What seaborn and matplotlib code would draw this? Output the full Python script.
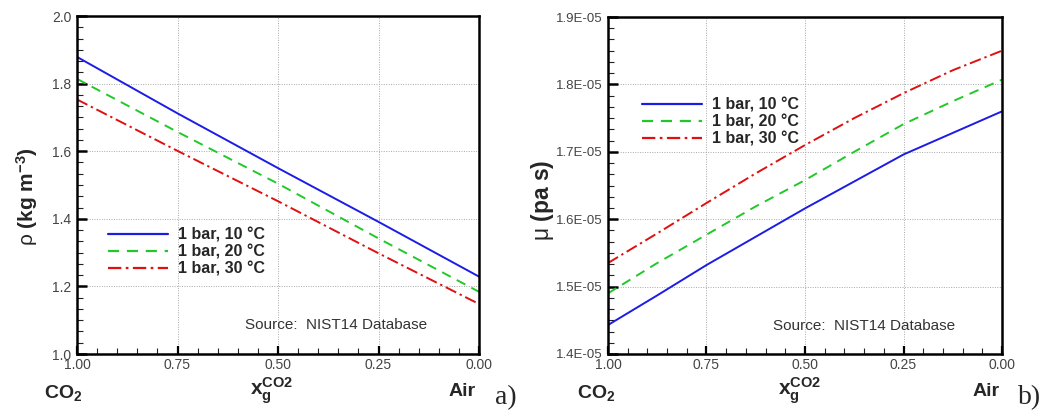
import numpy as np
import pandas as pd
import matplotlib
matplotlib.use("Agg")
import matplotlib.pyplot as plt
import seaborn as sns
from matplotlib.ticker import MultipleLocator, FormatStrFormatter, FuncFormatter
from matplotlib.lines import Line2D

# ---- data ----
series_labels = ["1 bar, 10 °C", "1 bar, 20 °C", "1 bar, 30 °C"]

x_rho = [1.00, 0.75, 0.50, 0.25, 0.00]
rho_10 = [1.879, 1.712, 1.550, 1.391, 1.229]
rho_20 = [1.814, 1.657, 1.504, 1.342, 1.184]
rho_30 = [1.753, 1.601, 1.452, 1.298, 1.148]

x_mu = [1.000, 0.875, 0.750, 0.625, 0.500, 0.375, 0.250, 0.125, 0.000]
mu_10 = [1.443, 1.487, 1.532, 1.574, 1.616, 1.656, 1.696, 1.728, 1.760]
mu_20 = [1.490, 1.535, 1.577, 1.619, 1.658, 1.700, 1.741, 1.775, 1.807]
mu_30 = [1.535, 1.579, 1.624, 1.668, 1.710, 1.750, 1.787, 1.821, 1.850]
mu_scale = 1e-5

x_ticks = [1.00, 0.75, 0.50, 0.25, 0.00]
rho_ticks = [1.0, 1.2, 1.4, 1.6, 1.8, 2.0]
mu_ticks = [1.4e-5, 1.5e-5, 1.6e-5, 1.7e-5, 1.8e-5, 1.9e-5]

colors = ["#1c1ce6", "#22c82a", "#e01010"]
dash_styles = ["", (5, 3.5), (6, 2, 1.2, 2)]

sns.set_theme(style="white")
plt.rcParams["font.family"] = ["Liberation Sans", "DejaVu Sans"]
plt.rcParams["mathtext.fontset"] = "custom"
plt.rcParams["mathtext.rm"] = "Liberation Sans"
plt.rcParams["mathtext.it"] = "Liberation Sans:italic"
plt.rcParams["mathtext.bf"] = "Liberation Sans:bold"

fig = plt.figure(figsize=(10.52, 4.13), dpi=100)
axL = fig.add_axes([77 / 1052, 1 - 354 / 413, (479 - 77) / 1052, (354 - 16) / 413])
axR = fig.add_axes([608 / 1052, 1 - 354 / 413, (1002 - 608) / 1052, (354 - 17) / 413])


def long_df(x, ys, scale=1.0):
    rows = []
    for lab, y in zip(series_labels, ys):
        for xi, yi in zip(x, y):
            rows.append({"x": xi, "y": yi * scale, "series": lab})
    return pd.DataFrame(rows)


dfL = long_df(x_rho, [rho_10, rho_20, rho_30])
dfR = long_df(x_mu, [mu_10, mu_20, mu_30], mu_scale)

pal = dict(zip(series_labels, colors))
dsh = dict(zip(series_labels, dash_styles))

for ax, df in [(axL, dfL), (axR, dfR)]:
    sns.lineplot(data=df, x="x", y="y", hue="series", style="series",
                 palette=pal, dashes=dsh, ax=ax, linewidth=1.4,
                 legend=False, sort=False, estimator=None)
    ax.set_xlim(1.0, 0.0)
    ax.set_xticks(x_ticks)
    ax.xaxis.set_major_formatter(FormatStrFormatter("%.2f"))
    ax.xaxis.set_minor_locator(MultipleLocator(0.05))
    ax.set_xlabel("")
    ax.set_ylabel("")
    ax.grid(True, which="major", color="#a8a8a8", linestyle=(0, (1, 1.5)), linewidth=0.7)
    for s in ax.spines.values():
        s.set_color("black")
        s.set_linewidth(1.8)
    ax.tick_params(axis="both", which="major", direction="in", labelsize=10,
                   labelcolor="#444444", color="black", top=False, right=False,
                   left=True, bottom=True)
    ax.tick_params(axis="y", which="major", length=7, width=1.8, pad=4)
    ax.tick_params(axis="x", which="major", length=6, width=1.6, pad=3)
    ax.tick_params(axis="both", which="minor", direction="in", length=4,
                   width=0.8, color="#222222", top=False, right=False,
                   left=True, bottom=True)
    ax.set_facecolor("white")

axL.set_ylim(1.0, 2.0)
axL.set_yticks(rho_ticks)
axL.yaxis.set_major_formatter(FormatStrFormatter("%.1f"))
axL.yaxis.set_minor_locator(MultipleLocator(0.2 / 6))

axR.set_ylim(1.4e-5, 1.9e-5)
axR.set_yticks(mu_ticks)
axR.yaxis.set_major_formatter(FuncFormatter(lambda v, p: f"{v / 1e-5:.1f}E-05"))
axR.yaxis.set_minor_locator(MultipleLocator(0.1e-5 / 6))
axR.tick_params(axis="y", which="major", labelsize=9.5)

# legends
handles = [Line2D([], [], color=c, linestyle=("-" if d == "" else (0, d)), linewidth=1.6)
           for c, d in zip(colors, dash_styles)]
for ax, anchor in [(axL, (0.077, 0.374)), (axR, (0.086, 0.760))]:
    ax.legend(handles, series_labels, loc="upper left", bbox_to_anchor=anchor,
              frameon=False, handlelength=3.75, handletextpad=0.63, labelspacing=0.12,
              prop={"weight": "bold", "size": 11.5}, borderaxespad=0, borderpad=0)

# source notes
axL.text(0.418, 0.085, "Source:  NIST14 Database", transform=axL.transAxes,
         fontsize=11, color="#333333", va="center", ha="left")
axR.text(0.42, 0.083, "Source:  NIST14 Database", transform=axR.transAxes,
         fontsize=11, color="#333333", va="center", ha="left")

# y labels
fig.text(27 / 1052, 1 - 197 / 413, r"$\mathrm{\rho}$ (kg m$^{\mathbf{-3}}$)", rotation=90,
         fontsize=15, fontweight="bold", ha="center", va="center")
fig.text(542 / 1052, 1 - 200 / 413, r"$\mathrm{\mu}$ (pa s)", rotation=90,
         fontsize=16.5, fontweight="bold", ha="center", va="center")

# bottom labels
for cx, xc, ax_, lab, lx in [(63, 272, 462, "a)", 506), (596, 800, 986, "b)", 1030)]:
    fig.text(cx / 1052, 1 - 393 / 413, r"CO$_\mathbf{2}$", fontsize=14, fontweight="bold",
             ha="center", va="center")
    fig.text(xc / 1052, 1 - 391 / 413, r"$\mathbf{x}_\mathbf{g}^\mathbf{CO2}$", fontsize=15,
             ha="center", va="center")
    fig.text(ax_ / 1052, 1 - 391 / 413, "Air", fontsize=14, fontweight="bold",
             ha="center", va="center")
    fig.text(lx / 1052, 1 - 398 / 413, lab, fontsize=20, family="Liberation Serif",
             ha="center", va="center")

fig.savefig("out.png", dpi=100, facecolor="white")
